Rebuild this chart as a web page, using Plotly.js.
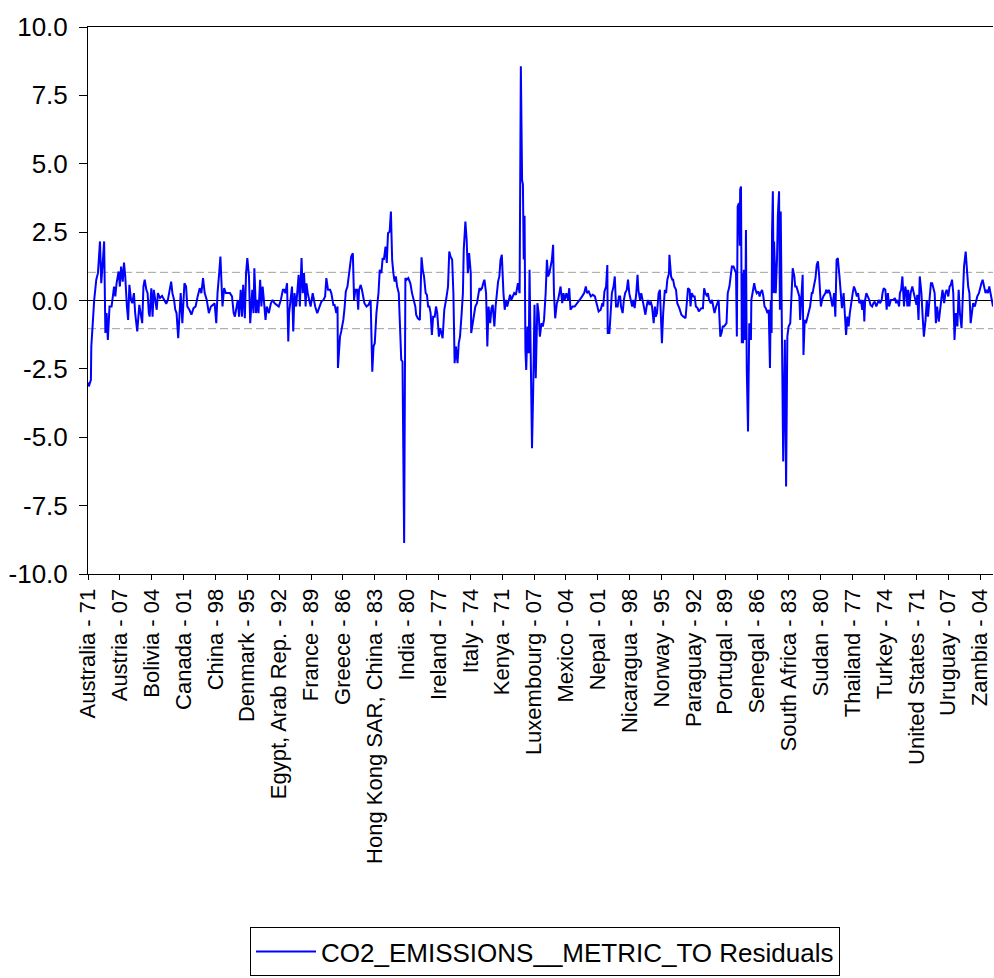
<!DOCTYPE html>
<html>
<head>
<meta charset="utf-8">
<script src="https://cdn.plot.ly/plotly-3.0.1.min.js"></script>
<style>html,body{margin:0;padding:0;background:#fff;}#chart{width:994px;height:978px;}</style>
</head>
<body>
<div id="chart"></div>
<script>
// Observation number in the stacked panel (0 = Australia 1971)
const obsIndex = [0,2,7,8,12,15,20,24,29,32,35,39,42,45,48,52,57,60,63,66,69,74,77,80,84,87,90,94,97,100,104,107,111,114,119,124,127,131,134,137,141,144,147,149,153,156,159,163,166,169,174,179,184,189,193,196,
201,204,208,211,214,218,221,224,228,231,233,237,240,245,250,255,260,265,270,274,278,282,287,292,297,302,306,310,313,317,320,325,329,333,338,343,348,352,355,359,362,365,369,372,375,379,382,385,389,392,395,
397,400,402,406,409,412,416,419,422,425,429,432,437,442,446,451,456,461,466,471,474,477,481,484,486,489,493,496,499,503,506,509,512,516,519,522,526,528,531,535,538,543,546,549,554,559,564,569,573,576,580,585,588,593,
596,600,603,604,609,612,617,620,623,627,630,633,636,640,643,646,650,653,655,659,662,665,668,673,678,683,687,690,693,697,702,705,709,712,715,719,722,725,729,732,735,738,741,744,747,751,754,757,760,764,767,770,774,779,783,788,791,
793,797,802,806,809,812,816,819,822,825,828,831,834,838,841,844,848,851,854,857,861,864,866,870,873,876,880,883,886,889,893,896,899,903,906,908,912,915,918,921,925,926,930,933,936,940,943,946,949,952,955,958,962,965,968,972,975,978,982,985,
991,994,997,1000,1004,1007,1010,1013,1017,1020,1023,1027,1030,1034,1039,1043,1046,1049,1051,1053,1055,1057,1059,1062,1065,1067,1070,1073,1076,1079,1082,1086,1089,1092,1096,1099,1102,1106,1109,1112,1115,1118,1121,1124,1126,1129,1133,1136,1139,1142,1146,1149,1152,1156,1160,1163,1166,1171,1176,1181,1188,
1194,1199,1203,1206,1210,1215,1220,1225,1229,1234,1239,1243,1245,1248,1252,1255,1256,1260,1263,1266,1270,1273,1276,1280,1283,1286,1288,1292,1295,1298,1302,1305,1308,1312,1315,1318,1321,1325,1328,1330,1334,1337,1340,1343,1347,1350,1353,1357,1360,1363,1367,1370,1372,1375,1379,1382,
1387,1390,1394,1397,1400,1404,1405,1409,1412,1414,1417,1421,1424,1429,1434,1439,1444,1447,1450,1454,1456,1459,1463,1466,1469,1473,1476,1479,1482,1486,1489,1492,1496,1498,1501,1505,1508,1511,1514,1518,1521,1524,1528,1531,1534,1537,1540,1543,1546,1550,1553,1556,1560,1563,1566,1568,1570,1573,1575,1576,1578,1580,1582,1583,1585,1588,1590,1592,1595,
1598,1602,1603,1606,1610,1613,1616,1620,1623,1625,1629,1632,1635,1638,1642,1645,1648,1650,1652,1653,1655,1657,1658,1662,1665,1667,1670,1672,1674,1677,1680,1684,1687,1690,1693,1697,1700,1703,1707,1709,1712,1716,1719,1721,1724,1727,1729,1732,1735,1739,1742,1745,1749,1751,1754,1758,1761,1764,1767,1771,1774,1777,1782,
1784,1787,1790,1793,1796,1799,1803,1806,1809,1812,1816,1819,1822,1826,1829,1832,1835,1838,1841,1844,1848,1851,1854,1858,1861,1864,1868,1871,1874,1876,1878,1881,1885,1888,1891,1895,1898,1901,1905,1908,1911,1914,1918,1920,1923,1927,1930,1933,1936,1940,1943,1946,1950,1953,1956,1960,1962,1965,1968,1972,1975,1978,1980,
1982,1985,1988,1992,1995,1998,2002,2004,2007,2010,2014,2017,2020,2024,2027,2030,2034,2037,2040,2043,2046,2049,2052,2056,2059,2062,2065,2069,2072,2075,2079,2082,2085,2088,2091,2094,2097,2101,2104,2107,2111,2114,2117,2121,2124,2127,2130,2133,2136,2139,2143,2146,2149,2153,2156,2159,2162,2166,2169,2172,2175,2178,2183,2187];

const residuals = [-3.0,-3.14,-2.90,-1.68,-0.71,0.02,0.76,1.00,2.16,0.63,1.24,2.16,-1.19,-0.46,-1.44,-0.22,-0.22,0.27,0.51,0.15,0.63,1.06,0.51,1.24,0.69,1.39,0.88,-0.22,-0.71,0.57,0.02,-0.10,0.27,-0.46,-1.13,-0.16,-0.46,-0.83,0.51,0.76,0.39,0.27,-0.46,-0.59,0.45,-0.59,0.39,0.02,-0.34,0.27,0.09,0.17,0.02,-0.12,0.02,0.27,
0.69,0.27,0.02,-0.34,-0.46,-1.38,-0.46,0.27,-0.83,0.51,0.63,0.51,-0.22,-0.34,-0.52,-0.28,-0.22,0.15,0.45,0.27,0.82,0.27,0.02,-0.46,-0.22,-0.16,-0.10,-0.83,0.27,1.00,1.61,-0.22,0.45,0.27,0.27,0.27,0.15,-0.46,-0.59,-0.22,0.02,-0.59,0.39,-0.59,0.57,-0.65,1.00,1.55,0.88,-0.83,0.27,
0.39,-0.46,1.18,-0.46,0.02,-0.46,0.76,-0.22,0.51,0.02,-0.71,-0.22,-0.46,-0.10,0.02,-0.10,-0.16,-0.22,0.02,0.39,0.39,0.27,0.63,-1.50,-0.46,0.02,0.51,-1.13,0.27,-0.22,0.39,0.94,-0.22,1.55,0.27,1.00,-0.22,0.63,0.27,0.02,-0.22,0.27,0.02,-0.22,-0.46,-0.22,-0.04,0.02,0.15,0.82,0.39,0.39,0.27,-0.16,
-0.16,-0.46,-0.22,-2.47,-1.32,-1.13,-0.71,-0.28,0.33,0.51,1.00,1.24,1.61,1.73,0.02,0.39,0.39,-0.34,0.39,0.57,0.39,0.15,-0.10,-0.22,-0.16,0.02,-2.60,-1.68,-1.56,-0.46,0.27,1.12,1.00,1.55,1.49,1.97,1.37,2.46,2.52,3.25,1.49,1.00,0.69,0.88,0.51,0.27,-1.44,-2.17,-2.23,-8.87,0.82,0.76,0.82,0.63,0.27,0.02,-0.22,
-0.52,-0.65,-0.71,1.58,1.12,0.88,0.27,0.21,-0.22,-0.22,-0.46,-1.26,-0.59,-0.59,-0.22,-0.46,-1.32,-1.01,-1.19,-1.38,-0.34,0.02,0.09,0.51,1.79,1.61,1.49,0.27,-2.29,-1.68,-2.29,-1.56,-1.32,-0.46,0.27,1.85,2.89,2.22,1.00,1.73,1.00,-1.19,-0.83,-0.46,-0.22,-0.10,0.27,0.45,0.39,0.45,0.63,0.76,0.27,-1.68,-0.22,-0.83,-0.28,-0.16,-0.95,-0.22,
0.69,0.88,1.49,1.67,0.27,-0.34,0.02,-0.22,0.02,0.21,0.02,0.15,0.27,0.21,0.63,0.27,8.56,4.40,4.25,1.50,3.10,-1.80,-2.54,-0.95,-1.93,1.12,-2.17,-5.40,-3.14,-0.16,-2.84,-0.10,-0.46,-1.32,-0.83,-0.95,-0.71,0.27,1.49,0.88,1.00,1.30,1.49,2.04,0.27,-0.65,-0.10,0.02,0.27,0.51,-0.10,0.27,0.02,0.27,0.02,0.45,-0.34,-0.22,-0.22,-0.10,0.02,
0.15,0.27,0.51,0.27,0.33,0.15,0.21,0.15,-0.10,-0.40,-0.34,-0.10,-0.22,0.33,0.51,1.30,-1.19,-1.19,-0.46,0.27,0.51,0.88,-0.22,-0.22,0.15,0.15,-0.22,-0.46,0.02,0.27,0.39,0.76,0.27,0.02,-0.22,0.02,-0.28,0.27,0.94,0.39,0.02,0.27,0.02,-0.22,-0.52,-0.22,0.02,-0.16,-0.04,-0.22,-0.83,-0.22,-0.59,-0.46,0.27,0.39,
-1.56,-0.46,0.39,0.27,0.76,1.00,1.67,0.88,0.76,0.76,0.51,0.39,-0.10,-0.28,-0.52,-0.59,-0.65,-0.10,0.45,0.39,-0.22,0.27,0.15,0.15,-0.22,-0.28,-0.40,-0.34,-0.28,-0.28,0.45,0.27,0.15,0.27,0.02,-0.10,0.02,-0.22,-0.46,-0.22,-0.10,0.02,-1.32,-1.19,-0.95,-0.95,-0.89,-0.83,0.27,0.51,0.88,1.24,1.24,1.12,1.00,-1.32,3.44,3.56,2.00,4.05,4.17,-1.56,1.00,-1.56,1.12,-1.44,2.58,-2.54,-4.79,
-0.83,-1.44,0.02,0.27,0.63,0.39,0.27,0.33,0.15,0.27,0.39,0.15,-0.22,-0.28,-0.46,-0.34,-2.47,0.02,-1.19,2.46,3.99,0.27,2.16,0.27,1.49,3.07,3.99,-0.34,3.25,-1.32,-5.89,-1.44,-6.80,-1.32,-0.95,-0.83,0.27,1.18,0.88,0.51,0.51,0.27,0.15,-0.71,0.02,0.94,-1.99,-0.71,-0.83,-0.59,-0.46,-0.22,0.27,0.27,0.51,0.82,1.30,1.43,0.88,-0.22,0.02,0.15,0.27,
0.39,0.27,0.39,0.27,0.02,-0.22,0.27,-0.59,1.49,1.55,0.88,0.27,-0.28,0.27,-0.77,-1.26,-0.59,-0.95,-0.46,-0.10,0.27,0.51,0.39,0.15,0.27,-0.10,0.02,-0.34,0.02,-0.77,0.02,0.27,0.15,0.02,-0.16,-0.22,-0.10,-0.04,-0.22,-0.10,0.02,-0.10,0.02,0.27,0.45,0.39,-0.34,0.27,-0.22,0.02,0.02,0.02,0.09,-0.10,0.02,-0.22,0.27,0.39,0.88,-0.22,0.51,0.27,-0.22,
0.39,-0.22,0.27,0.51,0.27,0.02,-0.16,0.21,-0.71,0.88,0.27,-0.59,-1.32,-0.71,0.02,-0.59,0.27,0.63,0.63,0.39,0.27,-0.83,-0.22,-0.77,-0.28,0.02,0.39,-0.10,0.27,0.39,0.15,0.51,0.57,0.76,0.27,-1.44,-0.46,-0.95,0.39,-0.46,-1.01,0.27,1.24,1.79,1.00,0.51,0.27,-0.83,-0.46,-0.10,-0.22,0.02,0.15,0.27,0.51,0.63,0.76,0.51,0.27,0.39,0.27,0.51,0.15,-0.22];

const tickObs = [0,77,154,231,308,385,462,539,616,693,770,847,924,1001,1078,1155,1232,1309,1386,1463,1540,1617,1694,1771,1848,1925,2002,2079,2156];
const tickLabels = ["Australia - 71","Austria - 07","Bolivia - 04","Canada - 01","China - 98","Denmark - 95","Egypt, Arab Rep. - 92","France - 89","Greece - 86","Hong Kong SAR, China - 83","India - 80","Ireland - 77","Italy - 74","Kenya - 71","Luxembourg - 07","Mexico - 04","Nepal - 01","Nicaragua - 98","Norway - 95","Paraguay - 92","Portugal - 89","Senegal - 86","South Africa - 83","Sudan - 80","Thailand - 77","Turkey - 74","United States - 71","Uruguay - 07","Zambia - 04"];
const yTickVals = [-10,-7.5,-5,-2.5,0,2.5,5,7.5,10];
const yTickLabels = ["-10.0","-7.5","-5.0","-2.5","0.0","2.5","5.0","7.5","10.0"];
const seBand = 1.03;
const seriesName = "CO2_EMISSIONS__METRIC_TO Residuals";
const nObs = 2188;

const font = "Arial, 'Liberation Sans', sans-serif";
const traces = [
  {x:[0,nObs-1], y:[seBand,seBand], mode:'lines', line:{color:'#a0a0a0', width:1, dash:'8px,4px'}, showlegend:false, hoverinfo:'skip'},
  {x:[0,nObs-1], y:[-seBand,-seBand], mode:'lines', line:{color:'#a0a0a0', width:1, dash:'8px,4px'}, showlegend:false, hoverinfo:'skip'},
  {x:obsIndex, y:residuals, mode:'lines', name:seriesName, line:{color:'#0000ff', width:2}}
];
const layout = {
  width:994, height:978,
  margin:{l:88, r:1, t:27, b:404},
  paper_bgcolor:'#ffffff', plot_bgcolor:'#ffffff',
  font:{family:font, size:22, color:'#000'},
  showlegend:true,
  legend:{x:0.505, xanchor:'center', y:-0.735, yanchor:'bottom', orientation:'h', itemwidth:60,
          bordercolor:'#000', borderwidth:1, bgcolor:'#fff', font:{family:font, size:26, color:'#000'}},
  xaxis:{range:[0,nObs-1], tickmode:'array', tickvals:tickObs, ticktext:tickLabels,
         tickangle:-90, ticks:'outside', ticklen:5, tickcolor:'#000', showgrid:false, zeroline:false,
         showline:true, linecolor:'#000', linewidth:1, mirror:true, tickfont:{family:font, size:22}},
  yaxis:{range:[-10,10], tickmode:'array', tickvals:yTickVals, ticktext:yTickLabels, ticks:'outside', ticklen:8,
         ticklabelstandoff:6,
         tickcolor:'#000', showgrid:false, zeroline:true, zerolinecolor:'#000', zerolinewidth:1,
         showline:true, linecolor:'#000', linewidth:1, mirror:false, tickfont:{family:font, size:26}}
};
Plotly.newPlot('chart', traces, layout, {displayModeBar:false, staticPlot:true});
</script>
</body>
</html>
